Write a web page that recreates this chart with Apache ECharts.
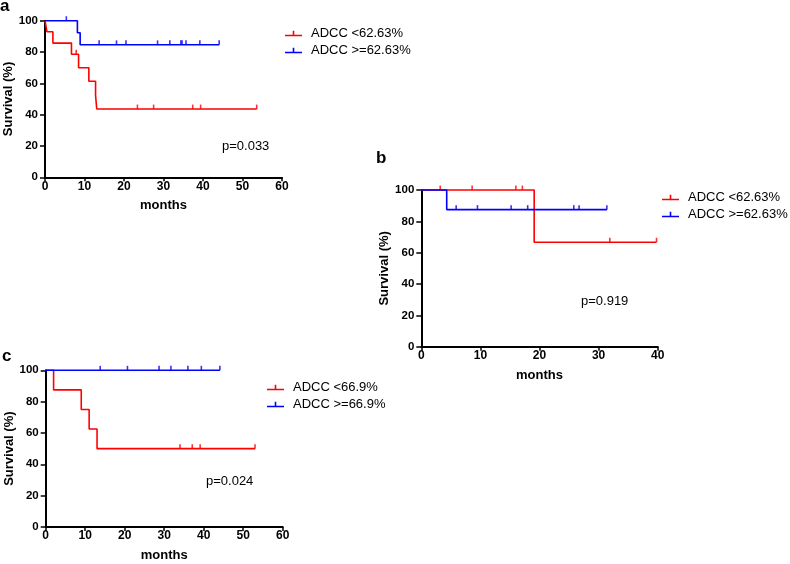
<!DOCTYPE html>
<html>
<head>
<meta charset="utf-8">
<script src="https://cdn.jsdelivr.net/npm/echarts@6/dist/echarts.min.js"></script>
<style>html,body{margin:0;padding:0;background:#fff}#c{width:790px;height:564px}</style>
</head>
<body>
<div id="c"></div>
<script>
// ---- Data ----
const xTicksA = [0, 10, 20, 30, 40, 50, 60];
const xTicksB = [0, 10, 20, 30, 40];
const yTicks = [0, 20, 40, 60, 80, 100];

// Panel a
const aRedName = 'ADCC <62.63%';
const aBlueName = 'ADCC >=62.63%';
const aRedTimes = [0, 0.5, 2.0, 6.7, 8.5, 11.1, 12.8, 13.1, 53.6];
const aRedSurv  = [100, 92.9, 85.7, 78.6, 70.0, 61.3, 52.4, 43.6, 43.6];
const aRedCens  = [7.9, 23.4, 27.5, 37.4, 39.4, 53.6];
const aBlueTimes = [0, 8.2, 8.9, 44.1];
const aBlueSurv  = [100, 92.3, 84.6, 84.6];
const aBlueCens  = [5.4, 13.7, 18.1, 20.5, 28.5, 31.6, 34.4, 34.7, 35.7, 39.2, 44.1];
const aP = 'p=0.033';

// Panel b
const bRedName = 'ADCC <62.63%';
const bBlueName = 'ADCC >=62.63%';
const bRedTimes = [0, 19.1, 39.8];
const bRedSurv  = [100, 66.7, 66.7];
const bRedCens  = [3.2, 8.6, 16.0, 17.1, 31.9, 39.8];
const bBlueTimes = [0, 4.3, 31.4];
const bBlueSurv  = [100, 87.5, 87.5];
const bBlueCens  = [5.9, 9.5, 15.2, 18.0, 25.8, 26.7, 31.4];
const bP = 'p=0.919';

// Panel c
const cRedName = 'ADCC <66.9%';
const cBlueName = 'ADCC >=66.9%';
const cRedTimes = [0, 2.0, 9.0, 11.0, 13.0, 53.0];
const cRedSurv  = [100, 87.5, 75.0, 62.5, 50.0, 50.0];
const cRedCens  = [34.0, 37.1, 39.1, 53.0];
const cBlueTimes = [0, 44.1];
const cBlueSurv  = [100, 100];
const cBlueCens  = [13.8, 20.7, 28.7, 31.7, 36.0, 39.4, 44.1];
const cP = 'p=0.024';

// ---- Styling / layout ----
const RED = '#ff0000', BLUE = '#0000ff';
const FONT = '"Liberation Sans", Arial, sans-serif';
const grids = [
  {left: 45, top: 20.7, width: 237, height: 156.6},
  {left: 421.3, top: 190, width: 236.4, height: 156.7},
  {left: 45.7, top: 370.3, width: 237, height: 156.7}
];

function survAt(times, surv, t) {
  let s = surv[0];
  for (let i = 0; i < times.length; i++) { if (times[i] <= t) s = surv[i]; }
  return s;
}

function kmSeries(name, color, times, surv, cens, gi) {
  return [
    {
      type: 'line', name: name, xAxisIndex: gi, yAxisIndex: gi,
      step: 'end', showSymbol: false, clip: false, animation: false,
      data: times.map((t, i) => [t, surv[i]]),
      lineStyle: {color: color, width: 1.6},
      itemStyle: {color: color}
    },
    {
      type: 'scatter', name: name, xAxisIndex: gi, yAxisIndex: gi,
      clip: false, animation: false,
      symbol: 'rect', symbolSize: [1.6, 4.5], symbolOffset: [0, -2.2],
      data: cens.map(t => [t, survAt(times, surv, t)]),
      itemStyle: {color: color}
    }
  ];
}

function xAxis(gi, ticks) {
  return {
    type: 'value', gridIndex: gi, min: ticks[0], max: ticks[ticks.length - 1],
    interval: ticks[1] - ticks[0],
    name: 'months', nameLocation: 'middle', nameGap: 22,
    nameTextStyle: {fontFamily: FONT, fontWeight: 'bold', fontSize: 13, color: '#000'},
    axisLine: {lineStyle: {color: '#000', width: 2}},
    axisTick: {show: true, length: 4, lineStyle: {color: '#000', width: 1.5}},
    axisLabel: {fontFamily: FONT, fontWeight: 'bold', fontSize: 12, color: '#000', margin: 3},
    splitLine: {show: false}
  };
}
function yAxis(gi) {
  return {
    type: 'value', gridIndex: gi, min: yTicks[0], max: yTicks[yTicks.length - 1],
    interval: yTicks[1] - yTicks[0],
    name: 'Survival (%)', nameLocation: 'middle', nameGap: 29, nameRotate: 90,
    nameTextStyle: {fontFamily: FONT, fontWeight: 'bold', fontSize: 13, color: '#000'},
    axisLine: {show: true, lineStyle: {color: '#000', width: 2}},
    axisTick: {show: true, length: 5, lineStyle: {color: '#000', width: 1.5}},
    axisLabel: {fontFamily: FONT, fontWeight: 'bold', fontSize: 11.5, color: '#000', margin: 7},
    splitLine: {show: false}
  };
}

const ICON = 'path://M0,4L17,4L17,5.6L0,5.6Z M7.7,0L9.3,0L9.3,4L7.7,4Z';
function legend(names, left, top) {
  return {
    data: names, orient: 'vertical', left: left, top: top,
    itemWidth: 17, itemHeight: 5.6, itemGap: 0, icon: ICON,
    selectedMode: false,
    textStyle: {fontFamily: FONT, fontSize: 13, color: '#000', lineHeight: 17, padding: [0, 0, 0, 4]}
  };
}

function txt(x, y, s, size, bold) {
  return {type: 'text', left: x, top: y, silent: true,
    style: {text: s, fontFamily: FONT, fontSize: size, fontWeight: bold ? 'bold' : 'normal', fill: '#000'}};
}

const option = {
  backgroundColor: '#fff',
  animation: false,
  grid: grids.map(g => Object.assign({containLabel: false}, g)),
  xAxis: [xAxis(0, xTicksA), xAxis(1, xTicksB), xAxis(2, xTicksA)],
  yAxis: [yAxis(0), yAxis(1), yAxis(2)],
  legend: [
    legend([aRedName, aBlueName], 280, 20),
    legend([bRedName, bBlueName], 657, 184),
    legend([cRedName, cBlueName], 262, 374)
  ],
  series: [].concat(
    kmSeries(aRedName, RED, aRedTimes, aRedSurv, aRedCens, 0),
    kmSeries(aBlueName, BLUE, aBlueTimes, aBlueSurv, aBlueCens, 0),
    kmSeries(bRedName, RED, bRedTimes, bRedSurv, bRedCens, 1),
    kmSeries(bBlueName, BLUE, bBlueTimes, bBlueSurv, bBlueCens, 1),
    kmSeries(cRedName, RED, cRedTimes, cRedSurv, cRedCens, 2),
    kmSeries(cBlueName, BLUE, cBlueTimes, cBlueSurv, cBlueCens, 2)
  ),
  graphic: [
    txt(0, -2, 'a', 17, true),
    txt(376, 150, 'b', 17, true),
    txt(2, 348, 'c', 17, true),
    txt(222, 140, aP, 13, false),
    txt(581, 295, bP, 13, false),
    txt(206, 475, cP, 13, false)
  ]
};

const chart = echarts.init(document.getElementById('c'), null, {renderer: 'canvas'});
chart.setOption(option);
</script>
</body>
</html>
